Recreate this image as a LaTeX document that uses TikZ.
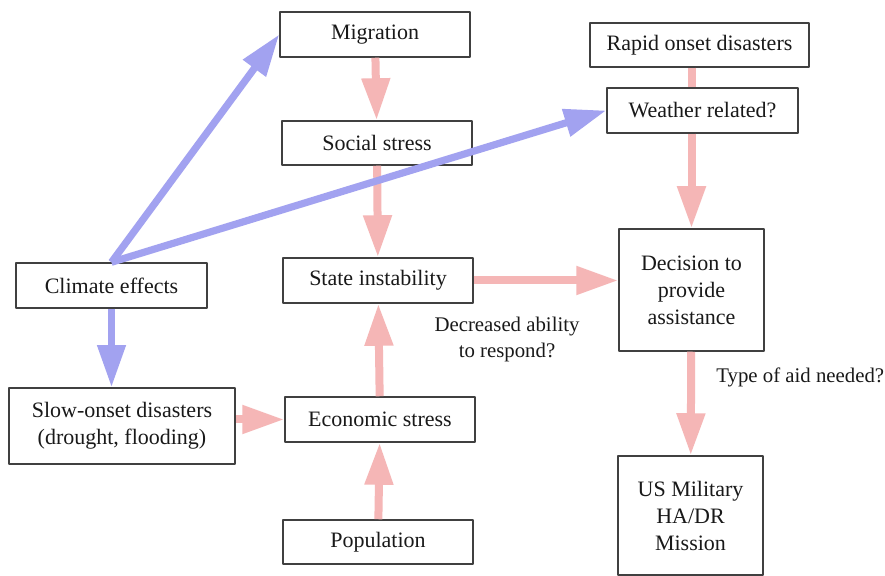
\documentclass[tikz,border=0pt]{standalone}
\usepackage{fontspec}
\setmainfont{Liberation Serif}
\usetikzlibrary{arrows.meta}
\definecolor{pinkarrow}{RGB}{245,182,182}
\definecolor{bluearrow}{RGB}{162,162,240}
\begin{document}
\begin{tikzpicture}[x=0.5pt,y=-0.5pt,line join=round,font=\fontsize{11}{13.5}\selectfont,
    box/.style={draw=black!75,line width=0.75pt,fill=white,inner sep=0pt,align=center,text=black!90},
    lbl/.style={inner sep=0pt,align=center,text=black!90,font=\fontsize{10.4}{13}\selectfont},
    pk/.style={draw=pinkarrow,line width=4pt,-{Triangle[length=21pt,width=13.5pt]}},
    bl/.style={draw=bluearrow,line width=3.6pt,-{Triangle[length=21pt,width=13.5pt]}}]
    \useasboundingbox[fill=white] (0,0) rectangle (885,576);
    \node[box,minimum width=95pt,minimum height=22.5pt] (mig) at (375,34.5) {Migration};
    \node[box,minimum width=95pt,minimum height=22pt] (soc) at (377,143) {Social stress};
    \node[box,minimum width=95pt,minimum height=22.5pt] (state) at (378,280.5) {State instability};
    \node[box,minimum width=95.5pt,minimum height=22.5pt] (clim) at (111.5,285.5) {Climate effects};
    \node[box,minimum width=113pt,minimum height=38pt] (slow) at (122,426) {Slow-onset disasters\\(drought, flooding)};
    \node[box,minimum width=95pt,minimum height=22.5pt] (econ) at (380,419.5) {Economic stress};
    \node[box,minimum width=95pt,minimum height=22pt] (pop) at (378,542) {Population};
    \node[box,minimum width=109.5pt,minimum height=22pt] (rapid) at (699.5,45) {Rapid onset disasters};
    \node[box,minimum width=95.5pt,minimum height=22.5pt] (weather) at (702.5,110.5) {Weather related?};
    \node[box,minimum width=72.5pt,minimum height=61pt] (dec) at (691.5,290) {Decision to\\provide\\assistance};
    \node[box,minimum width=72.5pt,minimum height=59.5pt] (usm) at (690.5,515.5) {US Military\\HA/DR\\Mission};
    \node[lbl] (lblresp) at (507,340) {Decreased ability\\to respond?};
    \node[lbl,anchor=west] (lblaid) at (716,377) {Type of aid needed?};
    \foreach \a/\b in {mig/soc,soc/state,econ/state,pop/econ,dec/usm}
        \draw[pk] (\a) -- (\b);
    \draw[pk] (slow.east |- econ) -- (econ.west);
    \draw[pk] (state.east) -- (state.east -| dec.west);
    \draw[pinkarrow,line width=4pt] (dec.north |- rapid.south) -- (dec.north |- weather.north);
    \draw[pk] (dec.north |- weather.south) -- (dec.north);
    \draw[bl] (clim.north) -- (mig.west);
    \draw[bl] (clim.north) -- (weather.west);
    \draw[bl] (clim.south) -- (clim.south |- slow.north);
\end{tikzpicture}
\end{document}
